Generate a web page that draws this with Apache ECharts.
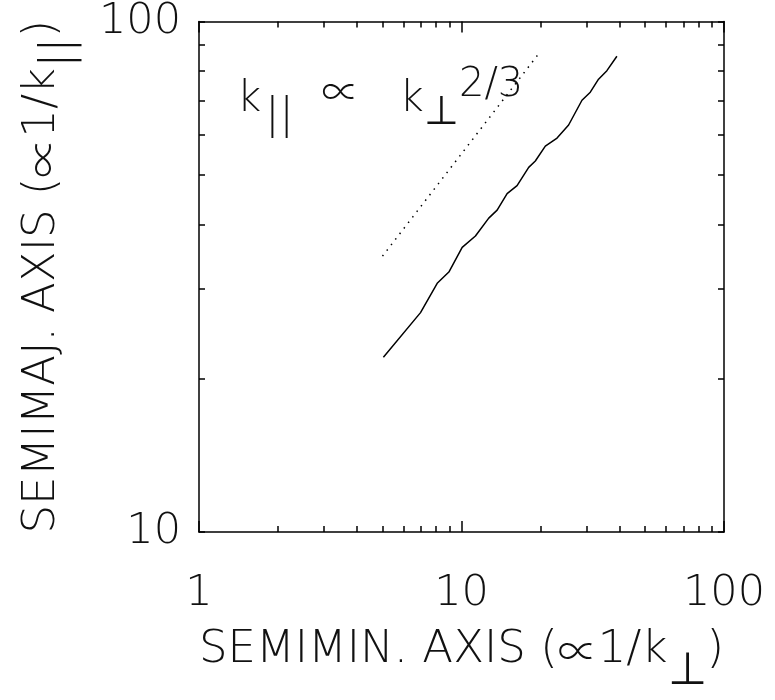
<!DOCTYPE html>
<html>
<head>
<meta charset="utf-8">
<script src="https://cdn.jsdelivr.net/npm/echarts@6/dist/echarts.min.js"></script>
<style>
  html, body { margin: 0; padding: 0; background: #fff; }
  #chart { width: 775px; height: 700px; }
</style>
</head>
<body>
<div id="chart"></div>
<script>
  // measured curve: semiminor vs semimajor axis
  var semiMinor = [5.04, 6.98, 8.08, 8.95, 10.06, 11.3, 12.7, 13.67, 14.92, 16.28, 18.03, 19.11, 20.86, 23.12, 25.59, 28.77, 30.95, 33.27, 35.8, 39.08];
  var semiMajor = [22.0, 26.9, 30.7, 32.3, 36.1, 38.0, 41.2, 42.7, 46.0, 47.7, 51.8, 53.3, 57.0, 59.1, 62.7, 70.1, 72.7, 77.1, 80.1, 85.5];
  // reference slope k_par ~ k_perp^(2/3)
  var refX = [5, 20];
  var refY = [34.7, 87.4];

  var font = 'DejaVu Sans';
  var symFont = '"Noto Sans CJK SC", "DejaVu Sans"';
  var ink = '#000';
  var txt = '#111';

  function pairs(xs, ys) {
    return xs.map(function (x, i) { return [x, ys[i]]; });
  }

  // light text style, and one for the "proportional to" sign
  function thin(size, extra) {
    return Object.assign({ fontFamily: font, fontSize: size, fontWeight: 200, color: txt }, extra);
  }
  function prop(size, extra) {
    return Object.assign({ fontFamily: symFont, fontSize: size, fontWeight: 300, color: txt }, extra);
  }

  var chart = echarts.init(document.getElementById('chart'));

  var logAxis = function (extra) {
    return Object.assign({
      type: 'log',
      logBase: 10,
      axisLine: { show: true, onZero: false, lineStyle: { color: ink, width: 1.5 } },
      axisTick: { show: true, inside: true, length: 11, lineStyle: { color: ink, width: 1.5 } },
      minorTick: { show: true, splitNumber: 9, length: 6, lineStyle: { color: ink, width: 1.5 } },
      splitLine: { show: false },
      minorSplitLine: { show: false }
    }, extra);
  };

  chart.setOption({
    animation: false,
    backgroundColor: '#fff',
    grid: { left: 199, right: 51, top: 21, bottom: 157, containLabel: false },
    xAxis: [
      logAxis({
        min: 1, max: 100, position: 'bottom',
        name: '{n|SEMIMIN. AXIS (}{p|\u221D}{n|1/k}{s|\u22A5}{n|)}',
        nameLocation: 'middle', nameGap: 74,
        nameTextStyle: {
          rich: {
            n: thin(45),
            p: prop(40),
            s: thin(45, { padding: [44, 0, 0, 0] })
          }
        },
        axisLabel: { show: true, margin: 40, fontFamily: font, fontSize: 43, fontWeight: 200, color: txt }
      }),
      logAxis({ min: 1, max: 100, position: 'top', axisLabel: { show: false } })
    ],
    yAxis: [
      logAxis({
        min: 10, max: 100, position: 'left',
        axisTick: { show: true, inside: true, length: 6, lineStyle: { color: ink, width: 1.5 } },
        name: '{n|SEMIMAJ. AXIS (}{p|\u221D}{n|1/k}{s|||}{n|)}',
        nameLocation: 'middle', nameGap: 117, nameRotate: 90,
        nameTextStyle: {
          rich: {
            n: thin(45),
            p: prop(40),
            s: thin(45, { padding: [34, 0, 0, 0] })
          }
        },
        axisLabel: { show: true, margin: 18, fontFamily: font, fontSize: 43, fontWeight: 200, color: txt }
      }),
      logAxis({
        min: 10, max: 100, position: 'right',
        axisTick: { show: true, inside: true, length: 6, lineStyle: { color: ink, width: 1.5 } },
        axisLabel: { show: false }
      })
    ],
    graphic: [{
      type: 'text',
      left: 237,
      top: 66,
      style: {
        text: '{n|k}{a|||}{p|\u221D}{n|k}{b|\u22A5}{u|2/3}',
        rich: {
          n: { fontFamily: font, fontSize: 42, fontWeight: 200, fill: txt },
          a: { fontFamily: font, fontSize: 42, fontWeight: 200, fill: txt, padding: [34, 0, 0, 4] },
          p: { fontFamily: symFont, fontSize: 38, fontWeight: 300, fill: txt, padding: [0, 40, 18, 28] },
          b: { fontFamily: font, fontSize: 40, fontWeight: 200, fill: txt, padding: [28, 0, 0, 0] },
          u: { fontFamily: font, fontSize: 40, fontWeight: 200, fill: txt, padding: [0, 0, 28, 0] }
        }
      }
    }],
    series: [
      {
        type: 'line',
        data: pairs(semiMinor, semiMajor),
        showSymbol: false,
        lineStyle: { color: ink, width: 1.5 }
      },
      {
        type: 'line',
        data: pairs(refX, refY),
        showSymbol: false,
        lineStyle: { color: ink, width: 1.5, type: [1.5, 5.5] }
      }
    ]
  });
</script>
</body>
</html>
